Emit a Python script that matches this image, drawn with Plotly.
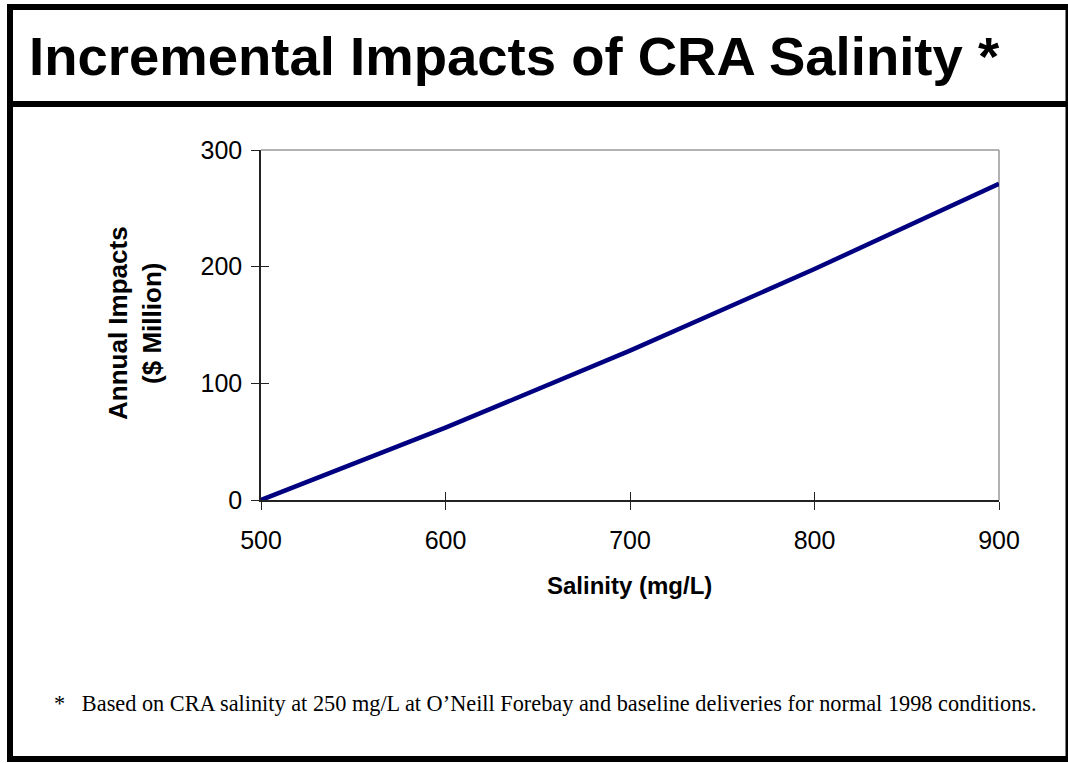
import plotly.graph_objects as go

salinity = [500, 600, 700, 800, 900]
impacts = [0, 62, 128, 198, 271]

x_ticks = [500, 600, 700, 800, 900]
y_ticks = [0, 100, 200, 300]

title_text = "Incremental Impacts of CRA Salinity *"
x_title = "Salinity (mg/L)"
y_title = "Annual Impacts<br>($ Million)"
footnote = "*&nbsp;&nbsp;&nbsp;Based on CRA salinity at 250 mg/L at O\u2019Neill Forebay and baseline deliveries for normal 1998 conditions."

W, H = 1068, 763
# plot area in page pixels
L, R, T, B = 261, 999, 150, 500


def px(x):
    return (x - L) / (R - L)


def py(y):
    return (B - y) / (B - T)


fig = go.Figure()
fig.add_trace(go.Scatter(x=salinity, y=impacts, mode="lines",
                         line=dict(color="#000080", width=4.5),
                         hoverinfo="x+y", showlegend=False))
fig.add_trace(go.Scatter(x=salinity, y=impacts, xaxis="x2", yaxis="y2",
                         mode="lines", line=dict(color="rgba(0,0,0,0)", width=0),
                         hoverinfo="skip", showlegend=False))

axis_font = dict(family="Liberation Sans, Arial, sans-serif", size=25, color="black")

fig.update_layout(
    width=W, height=H,
    margin=dict(l=L, r=W - R, t=T, b=H - B, pad=0),
    paper_bgcolor="white", plot_bgcolor="white",
    xaxis=dict(range=[500, 900], tickvals=x_ticks, ticks="outside", ticklen=8,
               tickwidth=1, tickcolor="#222", showline=True, linecolor="#222",
               linewidth=1.5, showgrid=False, zeroline=False, tickfont=axis_font,
               ticklabelstandoff=9),
    yaxis=dict(range=[0, 300], tickvals=y_ticks, ticks="outside", ticklen=8,
               tickwidth=1, tickcolor="#222", showline=True, linecolor="#222",
               linewidth=1.5, showgrid=False, zeroline=False, tickfont=axis_font,
               ticklabelstandoff=4),
    xaxis2=dict(range=[500, 900], overlaying="x", anchor="y2", tickvals=x_ticks,
                ticks="inside", ticklen=8, tickwidth=1, tickcolor="#222",
                showticklabels=False, showline=False, showgrid=False, zeroline=False),
    yaxis2=dict(range=[0, 300], overlaying="y", anchor="x2", tickvals=y_ticks,
                ticks="inside", ticklen=8, tickwidth=1, tickcolor="#222",
                showticklabels=False, showline=False, showgrid=False, zeroline=False),
    shapes=[
        dict(type="line", xref="paper", yref="paper", x0=0, x1=1, y0=1, y1=1,
             line=dict(color="#999", width=1.5), layer="below"),
        dict(type="line", xref="paper", yref="paper", x0=1, x1=1, y0=0, y1=1,
             line=dict(color="#999", width=1.5), layer="below"),
        dict(type="rect", xref="paper", yref="paper", x0=px(10), x1=px(1068.5),
             y0=py(759), y1=py(7), line=dict(color="black", width=6)),
        dict(type="line", xref="paper", yref="paper", x0=px(10), x1=px(1068.5),
             y0=py(104), y1=py(104), line=dict(color="black", width=6)),
    ],
    annotations=[
        dict(text=f"<b>{title_text}</b>", xref="paper", yref="paper", x=px(27), y=py(57),
             xanchor="left", yanchor="middle", showarrow=False,
             font=dict(family="Liberation Sans, Arial, sans-serif", size=54.5, color="black")),
        dict(text=f"<b>{x_title}</b>", xref="paper", yref="paper", x=px(629), y=py(585),
             xanchor="center", yanchor="middle", showarrow=False,
             font=dict(family="Liberation Sans, Arial, sans-serif", size=24, color="black")),
        dict(text=f"<b>{y_title}</b>", xref="paper", yref="paper", x=px(135), y=py(323),
             xanchor="center", yanchor="middle", showarrow=False, textangle=-90,
             font=dict(family="Liberation Sans, Arial, sans-serif", size=26, color="black")),
        dict(text=footnote, xref="paper", yref="paper", x=px(52), y=py(703),
             xanchor="left", yanchor="middle", showarrow=False,
             font=dict(family="Liberation Serif, Times New Roman, serif", size=22.3, color="black")),
    ],
)

fig.write_html(
    "out.html",
    config={"displayModeBar": False},
    post_script=("document.body.style.margin='0';"
                 "document.documentElement.style.overflow='hidden';"
                 "document.body.style.overflow='hidden';"),
)
